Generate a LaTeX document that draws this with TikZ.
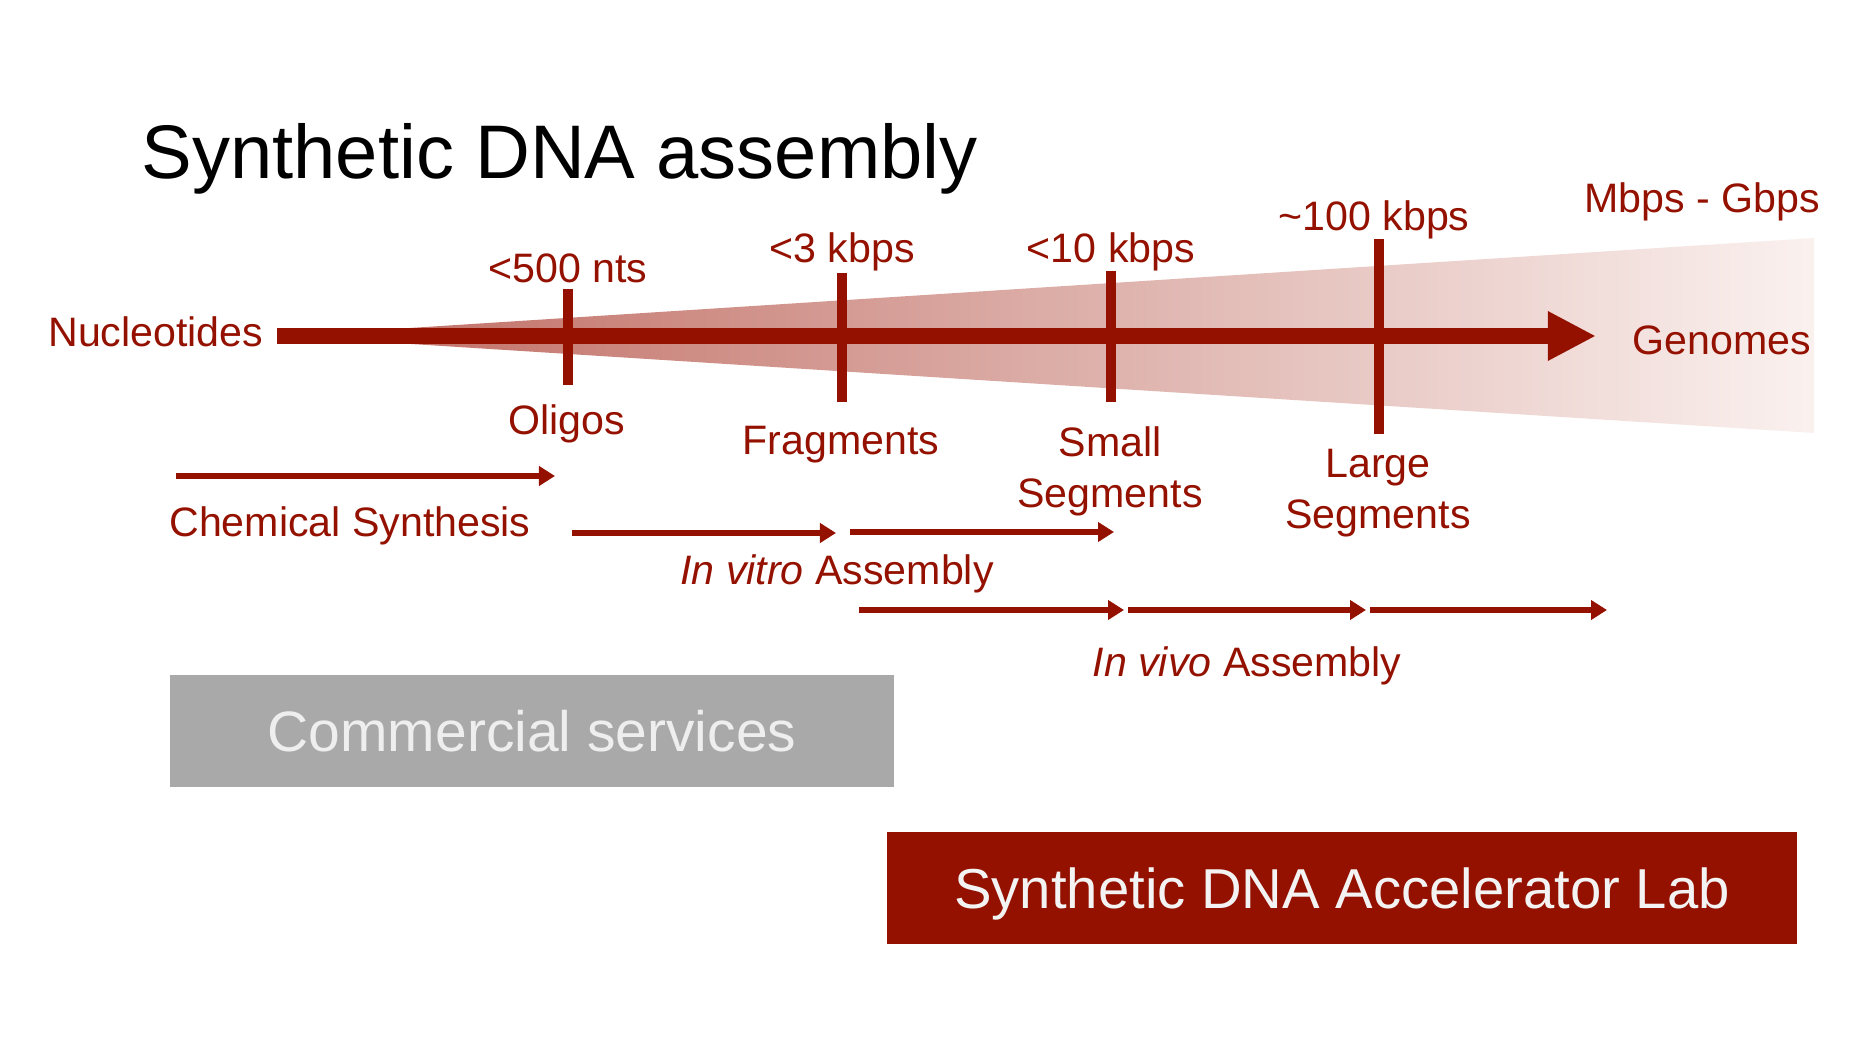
\documentclass[tikz,border=0pt]{standalone}
\usepackage{fontspec}
\setmainfont{Liberation Sans}
\usetikzlibrary{positioning,arrows.meta}
\definecolor{dnared}{RGB}{148,17,0}
\definecolor{fanleft}{RGB}{190,105,95}
\definecolor{fanright}{RGB}{250,241,239}
\definecolor{servgray}{RGB}{169,169,169}

\tikzset{
  lbl/.style={text=dnared, font=\fontsize{11.7}{14.5}\selectfont, inner sep=0pt},
  ticmark/.style={draw=dnared, line width=2.6pt},
  stage/.style={draw=dnared, line width=1.8pt, -{Triangle[length=1.6mm,width=1.9mm]}},
  panel/.style={inner sep=0pt, font=\fontsize{16.2}{19}\selectfont}
}

\begin{document}
\begin{tikzpicture}[x=0.01cm, y=-0.01cm]
			\useasboundingbox (0,0) rectangle (1875,1055);
			% Title
			\node (title) [anchor=base west, inner sep=0pt, font=\fontsize{21.6}{26}\selectfont] at (141,179) {Synthetic DNA assembly};
			% Fan and main axis
			\coordinate (apex) at (285,336);
			\coordinate (fanT) at (1814,238);
			\coordinate (fanB) at (1814,433);
			\shade[left color=fanleft, right color=fanright] (apex) -- (fanT) -- (fanB) -- cycle;
			\node (nucl) [lbl, anchor=base east] at (264,347) {Nucleotides};
			\coordinate (start) at (277,336);
			\coordinate (tip) at (1596,336);
			\draw[draw=dnared, line width=4.55pt, -{Triangle[length=4.8mm,width=4.6mm]}] (start) -- (tip);
			\node (genomes) [lbl, anchor=base] at (1722,355) {Genomes};
			% Ticks
			\coordinate (oligoT) at (568,289);  \coordinate (oligoB) at (568,385);
			\coordinate (fragT) at (842,273);   \coordinate (fragB) at (842,402);
			\coordinate (smallT) at (1111,271); \coordinate (smallB) at (1111,402);
			\coordinate (largeT) at (1379,239); \coordinate (largeB) at (1379,434);
			\draw[ticmark] (oligoT) -- (oligoB);
			\draw[ticmark] (fragT) -- (fragB);
			\draw[ticmark] (smallT) -- (smallB);
			\draw[ticmark] (largeT) -- (largeB);
			% Sizes above
			\node (s500) [lbl, anchor=base] at (568,283) {<500 nts};
			\node (s3k) [lbl, anchor=base] at (842,263) {<3 kbps};
			\node (s10k) [lbl, anchor=base] at (1111,263) {<10 kbps};
			\node (s100k) [lbl, anchor=base] at (1374,231) {\textasciitilde100 kbps};
			\node (smb) [lbl, anchor=base] at (1702,213) {Mbps - Gbps};
			% Products below
			\node (oligo) [lbl, anchor=base] at (567,435) {Oligos};
			\node (frag) [lbl, anchor=base] at (841,455) {Fragments};
			\node (small) [lbl, align=center] at (1110,471) {Small\\Segments};
			\node (large) [lbl, align=center] at (1378,493) {Large\\Segments};
			% Arrows for the methods
			\coordinate (chemA) at (176,476);  \coordinate (chemB) at (555,476);
			\coordinate (vitA) at (572,533);   \coordinate (vitB) at (836,533);
			\coordinate (vitC) at (850,532);   \coordinate (vitD) at (1114,532);
			\coordinate (vivA) at (859,610);   \coordinate (vivB) at (1124,610);
			\coordinate (vivC) at (1128,610);  \coordinate (vivD) at (1366,610);
			\coordinate (vivE) at (1370,610);  \coordinate (vivF) at (1607,610);
			\draw[stage] (chemA) -- (chemB);
			\draw[stage] (vitA) -- (vitB);
			\draw[stage] (vitC) -- (vitD);
			\draw[stage] (vivA) -- (vivB);
			\draw[stage] (vivC) -- (vivD);
			\draw[stage] (vivE) -- (vivF);
			\node (chem) [lbl, anchor=base] at (350,537) {Chemical Synthesis};
			\node (vitro) [lbl, anchor=base] at (837,584) {\textit{In vitro} Assembly};
			\node (vivo) [lbl, anchor=base] at (1247,677) {\textit{In vivo} Assembly};
			% Boxes
			\node (serv) [panel, fill=servgray, text={rgb,255:red,238;green,238;blue,238}, minimum width=7.24cm, minimum height=1.12cm] at (532,731) {Commercial services};
			\node (lab) [panel, fill=dnared, text={rgb,255:red,243;green,243;blue,243}, text height=15pt, text depth=3.5pt, minimum width=9.10cm, minimum height=1.11cm] at (1342,888) {\fontsize{16}{19}\selectfont Synthetic DNA Accelerator Lab};
		\end{tikzpicture}
\end{document}
